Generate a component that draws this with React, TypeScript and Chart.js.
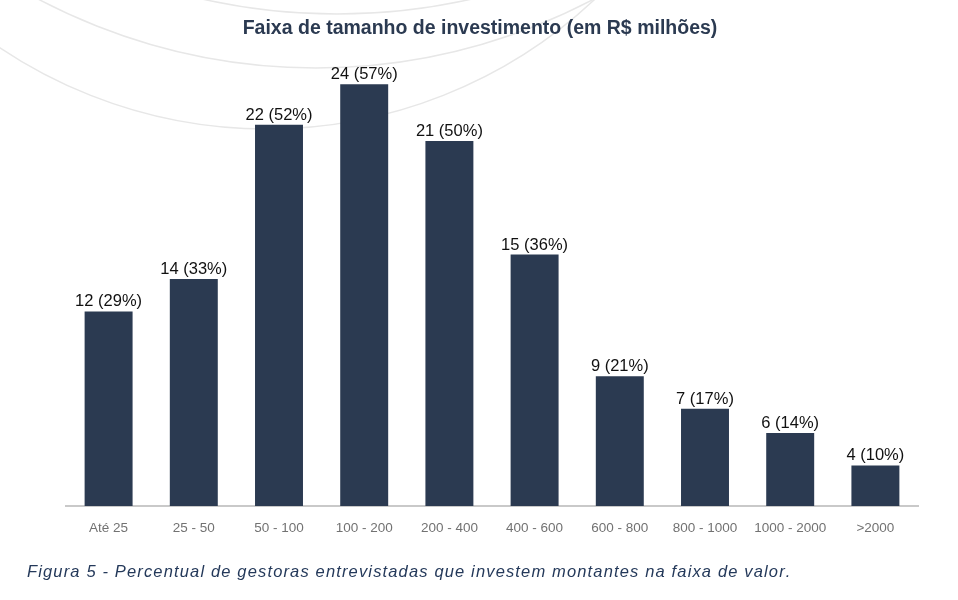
import React, { useEffect, useRef } from "react";
import { Chart, registerables } from "chart.js";

Chart.register(...registerables);

// Investment size brackets (R$ millions)
const categories = [
  "Até 25",
  "25 - 50",
  "50 - 100",
  "100 - 200",
  "200 - 400",
  "400 - 600",
  "600 - 800",
  "800 - 1000",
  "1000 - 2000",
  ">2000",
];
// Number of managers investing in each bracket
const counts = [12, 14, 22, 24, 21, 15, 9, 7, 6, 4];
// Share of the managers interviewed (%)
const percents = [29, 33, 52, 57, 50, 36, 21, 17, 14, 10];

const titleText = "Faixa de tamanho de investimento (em R$ milhões)";
const captionText =
  "Figura 5 - Percentual de gestoras entrevistadas que investem montantes na faixa de valor.";

const FONT = "'Liberation Sans', Arial, Helvetica, sans-serif";
const NAVY = "#2b3a51";

// Faint decorative circles behind the chart
const decoArcs = [
  { cx: 337, cy: -597, r: 611 },
  { cx: 316, cy: -526, r: 594 },
  { cx: 267, cy: -350, r: 479 },
];

// Draws text with extra tracking between characters
function drawSpaced(ctx: CanvasRenderingContext2D, text: string, x: number, y: number, spacing: number) {
  let cx = x;
  for (const ch of text) {
    ctx.fillText(ch, cx, y);
    cx += ctx.measureText(ch).width + spacing;
  }
}

const backgroundPlugin = {
  id: "backgroundDeco",
  beforeDraw(chart: Chart) {
    const ctx = chart.ctx;
    ctx.save();
    ctx.fillStyle = "#ffffff";
    ctx.fillRect(0, 0, chart.width, chart.height);
    ctx.strokeStyle = "#e7e7e7";
    ctx.lineWidth = 1.5;
    for (const a of decoArcs) {
      ctx.beginPath();
      ctx.arc(a.cx, a.cy, a.r, 0, Math.PI * 2);
      ctx.stroke();
    }
    ctx.restore();
  },
};

const textPlugin = {
  id: "titleCaptionLabels",
  afterDatasetsDraw(chart: Chart) {
    const ctx = chart.ctx;
    ctx.save();
    // value labels above the bars
    const meta = chart.getDatasetMeta(0);
    ctx.font = `16.5px ${FONT}`;
    ctx.fillStyle = "#111111";
    ctx.textAlign = "center";
    ctx.textBaseline = "alphabetic";
    meta.data.forEach((bar: any, i: number) => {
      ctx.fillText(`${counts[i]} (${percents[i]}%)`, bar.x, bar.y - 5);
    });
    // title
    ctx.font = `bold 19.5px ${FONT}`;
    ctx.fillStyle = NAVY;
    ctx.textAlign = "center";
    ctx.fillText(titleText, 480, 34);
    // caption
    ctx.font = `italic 16.5px ${FONT}`;
    ctx.fillStyle = "#24395a";
    ctx.textAlign = "left";
    drawSpaced(ctx, captionText, 27, 577, 1.15);
    ctx.restore();
  },
};

export default function App() {
  const canvasRef = useRef<HTMLCanvasElement | null>(null);

  useEffect(() => {
    if (!canvasRef.current) return;
    const chart = new Chart(canvasRef.current, {
      type: "bar",
      data: {
        labels: categories,
        datasets: [
          {
            data: percents,
            backgroundColor: NAVY,
            borderWidth: 0,
            categoryPercentage: 1,
            barPercentage: 0.563,
          },
        ],
      },
      options: {
        animation: false,
        responsive: true,
        maintainAspectRatio: false,
        layout: { padding: { top: 60, left: 66, right: 40, bottom: 64 } },
        plugins: {
          legend: { display: false },
          title: { display: false },
          tooltip: { enabled: false },
        },
        scales: {
          x: {
            grid: { display: false, drawTicks: false },
            border: { display: true, color: "#c9c9c9", width: 2 },
            ticks: {
              color: "#727272",
              padding: 14,
              font: { family: FONT, size: 13.5 },
              maxRotation: 0,
              autoSkip: false,
            },
            afterFit: (scale: any) => {
              scale.height = 30;
            },
          },
          y: {
            display: false,
            min: 5,
            max: 60,
          },
        },
      },
      plugins: [backgroundPlugin, textPlugin],
    });
    return () => chart.destroy();
  }, []);

  return (
    <div style={{ position: "absolute", left: 0, top: 0, width: 958, height: 600 }}>
      <canvas ref={canvasRef} />
    </div>
  );
}
